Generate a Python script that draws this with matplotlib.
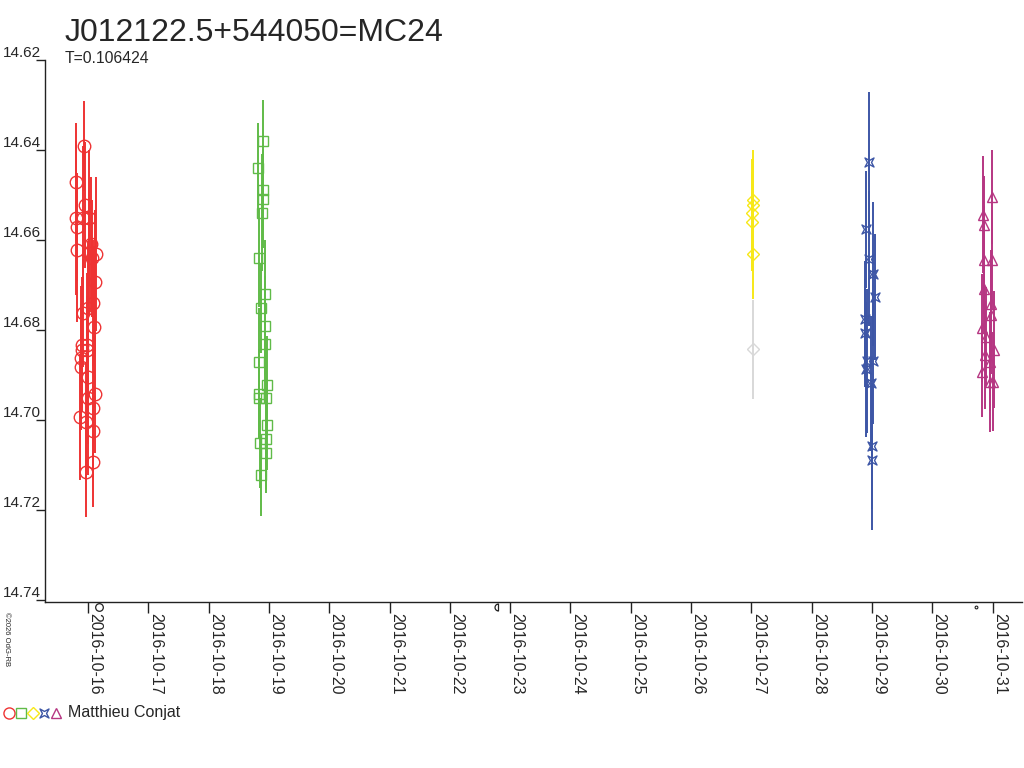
import numpy as np
import matplotlib
matplotlib.use("Agg")
import matplotlib.pyplot as plt
import matplotlib.dates as mdates
from matplotlib.path import Path
from matplotlib.transforms import blended_transform_factory, ScaledTranslation
from datetime import datetime

plt.rcParams['font.family'] = ['Liberation Sans', 'DejaVu Sans']

title = "J012122.5+544050=MC24"
subtitle = "T=0.106424"
observer = "Matthieu Conjat"
copyright_txt = "\u00a92026 OdG-RB"

# day of October 2016 (fractional), magnitude, error
red_day = [15.939, 15.801, 15.950, 15.801, 15.917, 16.017, 15.813, 15.818, 16.045, 16.017,
           16.133, 16.061, 16.116, 16.078, 15.912, 16.000, 16.100, 15.896, 15.983, 15.896,
           15.983, 15.879, 15.879, 16.000, 16.116, 16.000, 16.083, 15.867, 15.967, 16.078,
           16.083, 15.967]
red_mag = [14.6391, 14.6471, 14.6522, 14.6551, 14.6551, 14.6551, 14.6571, 14.6622, 14.6609, 14.6629,
           14.6631, 14.6640, 14.6693, 14.6740, 14.6762, 14.6751, 14.6793, 14.6833, 14.6833, 14.6844,
           14.6844, 14.6862, 14.6882, 14.6904, 14.6942, 14.6951, 14.6973, 14.6993, 14.7004, 14.7024,
           14.7093, 14.7116]
red_err = [0.010, 0.013, 0.014, 0.017, 0.016, 0.015, 0.012, 0.016, 0.015, 0.014,
           0.017, 0.013, 0.016, 0.014, 0.012, 0.015, 0.018, 0.015, 0.016, 0.013,
           0.012, 0.016, 0.014, 0.015, 0.013, 0.017, 0.012, 0.014, 0.013, 0.011,
           0.010, 0.010]

green_day = [18.907, 18.814, 18.897, 18.897, 18.881, 18.831, 18.935, 18.874, 18.935, 18.940,
             18.831, 18.968, 18.831, 18.841, 18.957, 18.968, 18.847, 18.952, 18.957, 18.864]
green_mag = [14.6379, 14.6439, 14.6488, 14.6508, 14.6539, 14.6639, 14.6719, 14.6750, 14.6790, 14.6830,
             14.6870, 14.6922, 14.6941, 14.6950, 14.6950, 14.7010, 14.7050, 14.7042, 14.7072, 14.7122]
green_err = [0.009, 0.010, 0.009, 0.011, 0.013, 0.011, 0.012, 0.010, 0.011, 0.012,
             0.012, 0.011, 0.010, 0.009, 0.012, 0.010, 0.010, 0.011, 0.009, 0.009]

yellow_day = [27.033, 27.033, 27.017, 27.017, 27.033]
yellow_mag = [14.6511, 14.6521, 14.6539, 14.6559, 14.6632]
yellow_err = [0.011, 0.010, 0.012, 0.011, 0.010]

grey_day = [27.033]
grey_mag = [14.6843]
grey_err = [0.011]

blue_day = [28.957, 28.902, 28.957, 29.023, 29.051, 28.885, 28.885, 29.023, 28.913, 28.902,
            28.985, 29.006, 28.997]
blue_mag = [14.6426, 14.6576, 14.6641, 14.6676, 14.6727, 14.6776, 14.6807, 14.6869, 14.6869, 14.6887,
            14.6918, 14.7058, 14.7089]
blue_err = [0.0156, 0.013, 0.015, 0.016, 0.014, 0.013, 0.012, 0.014, 0.016, 0.015,
            0.015, 0.014, 0.0156]

mag_day = [30.987, 30.847, 30.859, 30.859, 30.997, 30.859, 30.975, 30.975, 30.821, 30.887,
           31.030, 30.876, 30.958, 30.821, 31.013, 30.958]
mag_mag = [14.6504, 14.6544, 14.6567, 14.6644, 14.6644, 14.6709, 14.6743, 14.6767, 14.6795, 14.6815,
           14.6844, 14.6856, 14.6870, 14.6894, 14.6915, 14.6916]
mag_err = [0.0104, 0.013, 0.011, 0.012, 0.011, 0.010, 0.012, 0.013, 0.012, 0.011,
           0.013, 0.012, 0.011, 0.010, 0.011, 0.011]

moon_day = [16.18, 22.80, 30.73]

y_ticks = [14.62, 14.64, 14.66, 14.68, 14.70, 14.72, 14.74]
x_tick_days = list(range(16, 32))

base = mdates.date2num(datetime(2016, 10, 1))
def d2n(days):
    return base + np.asarray(days, dtype=float) - 1.0

# custom markers
star_verts = [(-1, -1), (0, -0.45), (1, -1), (0.45, 0), (1, 1), (0, 0.45), (-1, 1), (-0.45, 0), (-1, -1)]
star_marker = Path(star_verts, closed=True)
ang = np.linspace(np.pi/2, 3*np.pi/2, 20)
half_verts = list(zip(np.cos(ang), np.sin(ang))) + [(0, 1)]
half_marker = Path(half_verts, closed=True)

c_red = '#ee3333'
c_green = '#60bb48'
c_yellow = '#f7e818'
c_grey = '#d8d8d8'
c_blue = '#3d56a6'
c_mag = '#b63682'
txt = '#262626'

fig = plt.figure(figsize=(10.24, 7.68), dpi=100)
L, R, T, B = 45, 1022, 60, 602
ax = fig.add_axes([L/1024, 1 - B/768, (R-L)/1024, (B-T)/768])

series = [
    (grey_day, grey_mag, grey_err, c_grey, 'D', 6.0),
    (red_day, red_mag, red_err, c_red, 'o', 9),
    (green_day, green_mag, green_err, c_green, 's', 6.5),
    (yellow_day, yellow_mag, yellow_err, c_yellow, 'D', 6.0),
    (blue_day, blue_mag, blue_err, c_blue, star_marker, 6.5),
    (mag_day, mag_mag, mag_err, c_mag, '^', 7.5),
]
for d, m, e, c, mk, ms in series:
    x = d2n(d)
    ax.vlines(x, np.array(m) - np.array(e), np.array(m) + np.array(e), color=c, lw=1.4)
    ax.plot(x, m, linestyle='none', marker=mk, ms=ms, mfc='none', mec=c, mew=1.0)

ax.set_xlim(d2n([15.287])[0], d2n([31.489])[0])
ax.set_ylim(14.7404, 14.62)

for s in ['top', 'right']:
    ax.spines[s].set_visible(False)
for s in ['left', 'bottom']:
    ax.spines[s].set_color('#222222')
    ax.spines[s].set_linewidth(1.0)

# y ticks
ax.set_yticks(y_ticks)
ax.set_yticklabels([])
ax.tick_params(axis='y', direction='out', length=6.5, width=1.0, color='#222222')
ytr = blended_transform_factory(fig.transFigure, ax.transData)
for v in y_ticks:
    ax.text(3/1024, v, f"{v:.2f}", transform=ytr, ha='left', va='bottom',
            fontsize=11, color=txt)

# x ticks
ax.set_xticks(d2n(x_tick_days))
ax.xaxis.set_major_formatter(mdates.DateFormatter('%Y-%m-%d'))
ax.tick_params(axis='x', direction='out', length=8, width=1.0, color='#222222',
               labelsize=11.5, labelcolor=txt, pad=0)
offset = ScaledTranslation(7/100, 0, fig.dpi_scale_trans)
for lab in ax.get_xticklabels():
    lab.set_rotation(-90)
    lab.set_ha('center')
    lab.set_va('top')
    lab.set_transform(lab.get_transform() + offset)

# moon phases
mtr = blended_transform_factory(ax.transData, ax.transAxes)
ax.plot(d2n(moon_day[0:1]), [-5/542], marker='o', ms=5.5, mfc='none', mec='#222222', mew=0.9,
        transform=mtr, clip_on=False, linestyle='none')
ax.plot(d2n(moon_day[1:2]), [-5/542], marker=half_marker, ms=5, mfc='none', mec='#222222', mew=0.9,
        transform=mtr, clip_on=False, linestyle='none')
ax.plot(d2n(moon_day[2:3]), [-5/542], marker='o', ms=2, mfc='none', mec='#222222', mew=0.8,
        transform=mtr, clip_on=False, linestyle='none')

# titles
fig.text(65/1024, 1 - 41/768, title, fontsize=23, color=txt, ha='left', va='baseline')
fig.text(65/1024, 1 - 63/768, subtitle, fontsize=11.3, color=txt, ha='left', va='baseline')

# copyright
fig.text(6/1024, 1 - 612/768, copyright_txt, fontsize=5.5, color=txt, rotation=-90,
         ha='center', va='top')

# legend
leg_y = 1 - 713/768
leg_items = [(9, 'o', c_red, 8), (21, 's', c_green, 6.5), (33, 'D', c_yellow, 6),
             (44, star_marker, c_blue, 6.5), (56, '^', c_mag, 7.5)]
for px, mk, c, ms in leg_items:
    fig.lines.append(plt.Line2D([px/1024], [leg_y], marker=mk, ms=ms, mfc='none', mec=c,
                                mew=1.0, linestyle='none', transform=fig.transFigure))
fig.text(68/1024, leg_y, observer, fontsize=11.5, color=txt, ha='left', va='center')

fig.savefig('out.png', dpi=100)
